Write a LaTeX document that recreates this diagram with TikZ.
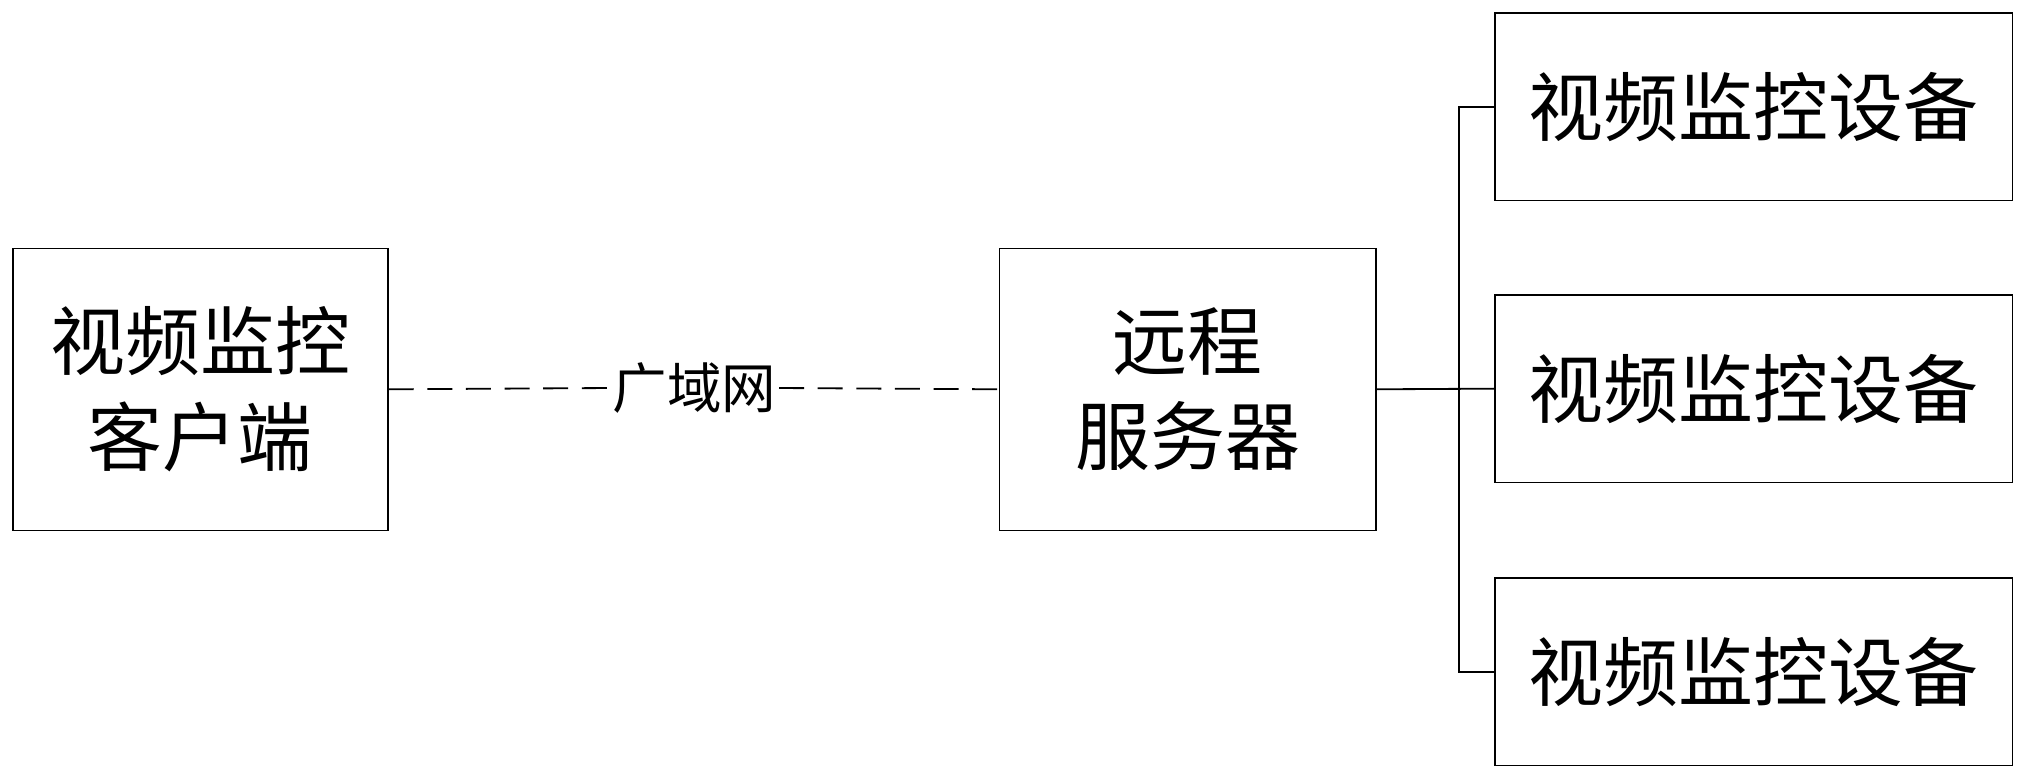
\documentclass[tikz,border=0pt]{standalone}
\usepackage{fontspec}
\newfontfamily\cjk{Noto Sans CJK SC}
\begin{document}
\begin{tikzpicture}[x=0.02cm,y=-0.02cm,
  box/.style={draw,line width=0.6pt,inner sep=0pt,font=\cjk\fontsize{33}{42}\selectfont,align=center},
  ln/.style={line width=0.8pt}]
\useasboundingbox (0,0) rectangle (1568,604);
\node[box,minimum width=290*0.02cm,minimum height=218*0.02cm] (cl) at (155,301) {视频监控\\客户端};
\node[box,minimum width=291*0.02cm,minimum height=218*0.02cm] (sv) at (918.5,301) {远程\\服务器};
\node[box,minimum width=400*0.02cm,minimum height=145*0.02cm] (d1) at (1356,82.5) {视频监控设备};
\node[box,minimum width=400*0.02cm,minimum height=145*0.02cm] (d2) at (1356,300.5) {视频监控设备};
\node[box,minimum width=400*0.02cm,minimum height=145*0.02cm] (d3) at (1356,519.5) {视频监控设备};
\node[font=\cjk\fontsize{24}{28}\selectfont,fill=white,inner sep=1pt] (wan) at (537,300) {广域网};
\draw[ln,dashed,dash pattern=on 11pt off 6pt] (cl.east) -- (wan.west);
\draw[ln,dashed,dash pattern=on 11pt off 6pt] (wan.east) -- (sv.west);
\coordinate (b1) at (1128,82.5);
\coordinate (b2) at (1128,300.5);
\coordinate (b3) at (1128,519.5);
\draw[ln] (sv.east) -- (d2.west);
\draw[ln] (d1.west) -- (b1) -- (b3) -- (d3.west);
\end{tikzpicture}
\end{document}
